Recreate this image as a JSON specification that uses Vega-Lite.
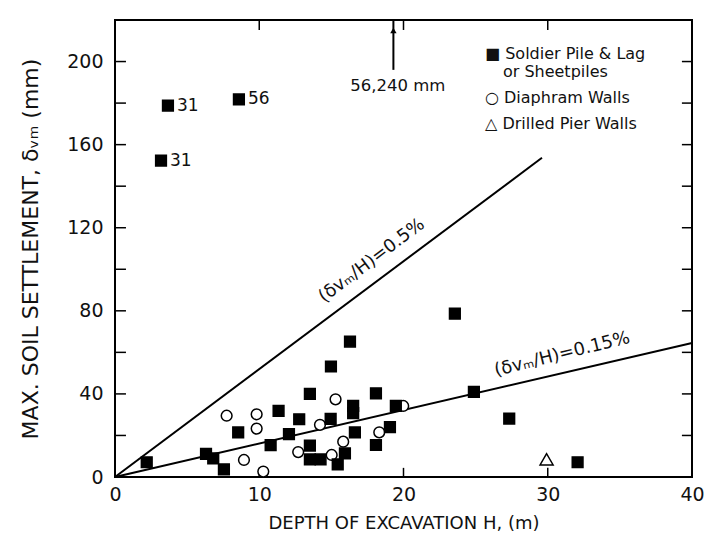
{
  "$schema": "https://vega.github.io/schema/vega-lite/v6.json",
  "width": 577,
  "height": 457,
  "autosize": {"type": "none"},
  "padding": {"left": 115, "top": 20, "right": 17, "bottom": 59},
  "background": "white",
  "config": {
    "view": {"stroke": "black", "strokeWidth": 2},
    "font": "DejaVu Sans",
    "axis": {
      "domain": false,
      "grid": false,
      "labelFont": "DejaVu Sans",
      "labelColor": "#111",
      "titleFont": "DejaVu Sans",
      "titleFontWeight": "normal",
      "titleColor": "#111"
    }
  },
  "datasets": {
    "lines": [
      {"ratio": "0.5%", "H": 0, "S": 0},
      {"ratio": "0.5%", "H": 29.6, "S": 153.7},
      {"ratio": "0.15%", "H": 0, "S": 0},
      {"ratio": "0.15%", "H": 40, "S": 64.5}
    ],
    "xticks": [{"v": 10}, {"v": 20}, {"v": 30}],
    "yticks": [{"v": 20}, {"v": 40}, {"v": 60}, {"v": 80}, {"v": 100}, {"v": 120}, {"v": 140}, {"v": 160}, {"v": 180}, {"v": 200}],
    "points": [
      {"type": "Diaphram Walls", "H": 7.74, "S": 29.5},
      {"type": "Diaphram Walls", "H": 8.94, "S": 8.2},
      {"type": "Diaphram Walls", "H": 9.82, "S": 30.2},
      {"type": "Diaphram Walls", "H": 9.82, "S": 23.3},
      {"type": "Diaphram Walls", "H": 10.28, "S": 2.6},
      {"type": "Diaphram Walls", "H": 12.7, "S": 12.0},
      {"type": "Diaphram Walls", "H": 14.21, "S": 25.1},
      {"type": "Diaphram Walls", "H": 15.02, "S": 10.6},
      {"type": "Diaphram Walls", "H": 15.29, "S": 37.4},
      {"type": "Diaphram Walls", "H": 15.82, "S": 17.0},
      {"type": "Diaphram Walls", "H": 18.32, "S": 21.5},
      {"type": "Diaphram Walls", "H": 19.98, "S": 34.2},
      {"type": "Soldier Pile & Lag or Sheetpiles", "H": 3.67, "S": 178.8},
      {"type": "Soldier Pile & Lag or Sheetpiles", "H": 3.19, "S": 152.3},
      {"type": "Soldier Pile & Lag or Sheetpiles", "H": 8.59, "S": 181.8},
      {"type": "Soldier Pile & Lag or Sheetpiles", "H": 2.2, "S": 7.1},
      {"type": "Soldier Pile & Lag or Sheetpiles", "H": 6.31, "S": 11.1},
      {"type": "Soldier Pile & Lag or Sheetpiles", "H": 6.81, "S": 9.0},
      {"type": "Soldier Pile & Lag or Sheetpiles", "H": 7.55, "S": 3.7},
      {"type": "Soldier Pile & Lag or Sheetpiles", "H": 8.54, "S": 21.5},
      {"type": "Soldier Pile & Lag or Sheetpiles", "H": 10.79, "S": 15.3},
      {"type": "Soldier Pile & Lag or Sheetpiles", "H": 11.34, "S": 31.8},
      {"type": "Soldier Pile & Lag or Sheetpiles", "H": 12.06, "S": 20.6},
      {"type": "Soldier Pile & Lag or Sheetpiles", "H": 12.77, "S": 27.8},
      {"type": "Soldier Pile & Lag or Sheetpiles", "H": 13.51, "S": 40.0},
      {"type": "Soldier Pile & Lag or Sheetpiles", "H": 13.51, "S": 15.1},
      {"type": "Soldier Pile & Lag or Sheetpiles", "H": 13.51, "S": 8.5},
      {"type": "Soldier Pile & Lag or Sheetpiles", "H": 14.25, "S": 8.5},
      {"type": "Soldier Pile & Lag or Sheetpiles", "H": 14.95, "S": 28.0},
      {"type": "Soldier Pile & Lag or Sheetpiles", "H": 14.97, "S": 53.2},
      {"type": "Soldier Pile & Lag or Sheetpiles", "H": 15.44, "S": 6.1},
      {"type": "Soldier Pile & Lag or Sheetpiles", "H": 15.94, "S": 11.4},
      {"type": "Soldier Pile & Lag or Sheetpiles", "H": 16.29, "S": 65.2},
      {"type": "Soldier Pile & Lag or Sheetpiles", "H": 16.51, "S": 34.2},
      {"type": "Soldier Pile & Lag or Sheetpiles", "H": 16.51, "S": 30.7},
      {"type": "Soldier Pile & Lag or Sheetpiles", "H": 16.63, "S": 21.5},
      {"type": "Soldier Pile & Lag or Sheetpiles", "H": 18.09, "S": 40.3},
      {"type": "Soldier Pile & Lag or Sheetpiles", "H": 18.09, "S": 15.4},
      {"type": "Soldier Pile & Lag or Sheetpiles", "H": 19.06, "S": 24.0},
      {"type": "Soldier Pile & Lag or Sheetpiles", "H": 19.47, "S": 34.2},
      {"type": "Soldier Pile & Lag or Sheetpiles", "H": 23.56, "S": 78.6},
      {"type": "Soldier Pile & Lag or Sheetpiles", "H": 24.88, "S": 41.0},
      {"type": "Soldier Pile & Lag or Sheetpiles", "H": 27.33, "S": 28.1},
      {"type": "Soldier Pile & Lag or Sheetpiles", "H": 32.07, "S": 7.1}
    ],
    "triangles": [
      {"type": "Drilled Pier Walls", "H": 29.92, "S": 8.5}
    ],
    "ptlabels": [
      {"H": 3.67, "S": 178.8, "lab": "31"},
      {"H": 3.19, "S": 152.3, "lab": "31"},
      {"H": 8.59, "S": 181.8, "lab": "56"}
    ],
    "linelabels": [
      {"ratio": "0.5%", "H": 17.8, "S": 104.1, "lab": "(δvₘ/H)=0.5%"},
      {"ratio": "0.15%", "H": 31.0, "S": 59.0, "lab": "(δvₘ/H)=0.15%"}
    ],
    "arrow": [
      {"H": 19.3, "S": 196, "S2": 220, "tip": 215, "lab": "56,240 mm", "labS": 188, "labH": 19.6}
    ]
  },
  "layer": [
    {
      "data": {"name": "lines"},
      "mark": {"type": "line", "stroke": "black", "strokeWidth": 2},
      "encoding": {
        "x": {
          "field": "H", "type": "quantitative",
          "scale": {"domain": [0, 40], "nice": false},
          "axis": {
            "orient": "bottom", "values": [0, 10, 20, 30, 40],
            "ticks": false, "labelPadding": 8, "labelFontSize": 19,
            "labelFlush": false,
            "title": "DEPTH OF EXCAVATION H, (m)", "titleFontSize": 18, "titlePadding": 10
          }
        },
        "y": {
          "field": "S", "type": "quantitative",
          "scale": {"domain": [0, 220], "nice": false},
          "axis": {
            "orient": "left", "values": [0, 40, 80, 120, 160, 200],
            "ticks": false, "labelPadding": 12, "labelFontSize": 19,
            "labelFlush": false,
            "title": "MAX. SOIL SETTLEMENT, δᵥₘ (mm)", "titleFontSize": 22, "titlePadding": 24
          }
        },
        "detail": {"field": "ratio"}
      }
    },
    {
      "data": {"name": "xticks"},
      "mark": {"type": "rule", "stroke": "black", "strokeWidth": 1.5},
      "encoding": {
        "x": {"field": "v", "type": "quantitative", "axis": null},
        "y": {"datum": 0, "type": "quantitative", "axis": null},
        "y2": {"datum": 4.4}
      }
    },
    {
      "data": {"name": "xticks"},
      "mark": {"type": "rule", "stroke": "black", "strokeWidth": 1.5},
      "encoding": {
        "x": {"field": "v", "type": "quantitative", "axis": null},
        "y": {"datum": 220, "type": "quantitative", "axis": null},
        "y2": {"datum": 215.2}
      }
    },
    {
      "data": {"name": "yticks"},
      "mark": {"type": "rule", "stroke": "black", "strokeWidth": 1.5},
      "encoding": {
        "y": {"field": "v", "type": "quantitative", "axis": null},
        "x": {"datum": 0, "type": "quantitative", "axis": null},
        "x2": {"datum": 0.76}
      }
    },
    {
      "data": {"name": "yticks"},
      "mark": {"type": "rule", "stroke": "black", "strokeWidth": 1.5},
      "encoding": {
        "y": {"field": "v", "type": "quantitative", "axis": null},
        "x": {"datum": 40, "type": "quantitative", "axis": null},
        "x2": {"datum": 39.3}
      }
    },
    {
      "data": {"name": "points"},
      "mark": {"type": "point", "filled": true, "stroke": "black", "strokeWidth": 1.5, "opacity": 1, "size": 115},
      "encoding": {
        "x": {"field": "H", "type": "quantitative", "axis": null},
        "y": {"field": "S", "type": "quantitative", "axis": null},
        "shape": {
          "field": "type", "type": "nominal",
          "scale": {
            "domain": ["Soldier Pile & Lag or Sheetpiles", "Diaphram Walls", "Drilled Pier Walls"],
            "range": ["square", "circle", "triangle-up"]
          },
          "legend": {
            "orient": "none", "legendX": 354, "legendY": 26, "title": null,
            "labelExpr": "datum.label == 'Soldier Pile & Lag or Sheetpiles' ? ['■ Soldier Pile & Lag', '\u200b\u00a0\u00a0\u00a0\u2006or Sheetpiles'] : (datum.label == 'Diaphram Walls' ? '○ Diaphram  Walls' : '△ Drilled Pier Walls')",
            "labelFontSize": 16, "labelColor": "#111", "labelFont": "DejaVu Sans",
            "labelOffset": 0, "rowPadding": 10, "symbolSize": 0, "symbolOpacity": 0,
            "padding": 0, "labelLimit": 300
          }
        },
        "fill": {
          "field": "type", "type": "nominal",
          "scale": {
            "domain": ["Soldier Pile & Lag or Sheetpiles", "Diaphram Walls", "Drilled Pier Walls"],
            "range": ["black", "white", "white"]
          }
        }
      }
    },
    {
      "data": {"name": "triangles"},
      "mark": {"type": "point", "filled": true, "stroke": "black", "strokeWidth": 1.5, "opacity": 1, "size": 170},
      "encoding": {
        "x": {"field": "H", "type": "quantitative", "axis": null},
        "y": {"field": "S", "type": "quantitative", "axis": null},
        "shape": {"field": "type", "type": "nominal"},
        "fill": {"field": "type", "type": "nominal"}
      }
    },
    {
      "data": {"name": "ptlabels"},
      "mark": {"type": "text", "align": "left", "baseline": "middle", "dx": 9, "fontSize": 17, "color": "#111"},
      "encoding": {
        "x": {"field": "H", "type": "quantitative", "axis": null},
        "y": {"field": "S", "type": "quantitative", "axis": null},
        "text": {"field": "lab"}
      }
    },
    {
      "data": {"name": "linelabels"},
      "transform": [{"filter": "datum.ratio == '0.5%'"}],
      "mark": {"type": "text", "align": "center", "baseline": "middle", "angle": 323, "fontSize": 18, "color": "#111"},
      "encoding": {
        "x": {"field": "H", "type": "quantitative", "axis": null},
        "y": {"field": "S", "type": "quantitative", "axis": null},
        "text": {"field": "lab"}
      }
    },
    {
      "data": {"name": "linelabels"},
      "transform": [{"filter": "datum.ratio == '0.15%'"}],
      "mark": {"type": "text", "align": "center", "baseline": "middle", "angle": 346, "fontSize": 18, "color": "#111"},
      "encoding": {
        "x": {"field": "H", "type": "quantitative", "axis": null},
        "y": {"field": "S", "type": "quantitative", "axis": null},
        "text": {"field": "lab"}
      }
    },
    {
      "data": {"name": "arrow"},
      "mark": {"type": "rule", "stroke": "black", "strokeWidth": 2},
      "encoding": {
        "x": {"field": "H", "type": "quantitative", "axis": null},
        "y": {"field": "S", "type": "quantitative", "axis": null},
        "y2": {"field": "S2"}
      }
    },
    {
      "data": {"name": "arrow"},
      "mark": {"type": "point", "shape": "triangle-up", "filled": true, "color": "black", "size": 40, "opacity": 1},
      "encoding": {
        "x": {"field": "H", "type": "quantitative", "axis": null},
        "y": {"field": "tip", "type": "quantitative", "axis": null}
      }
    },
    {
      "data": {"name": "arrow"},
      "mark": {"type": "text", "align": "center", "baseline": "middle", "fontSize": 16.5, "color": "#111"},
      "encoding": {
        "x": {"field": "labH", "type": "quantitative", "axis": null},
        "y": {"field": "labS", "type": "quantitative", "axis": null},
        "text": {"field": "lab"}
      }
    }
  ],
  "resolve": {"axis": {"x": "independent", "y": "independent"}}
}
